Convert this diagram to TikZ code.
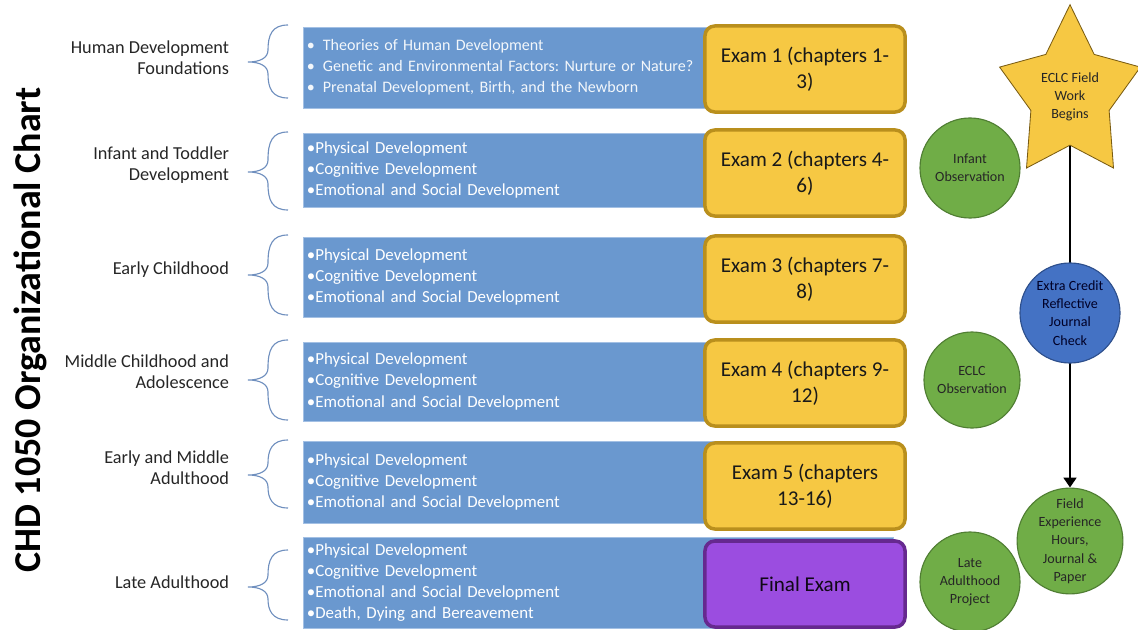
\documentclass[tikz,border=0pt]{standalone}
\usepackage{fontspec}
\setmainfont{Carlito}
\usetikzlibrary{arrows.meta, shapes.geometric, backgrounds}
\usepackage{xcolor}
\frenchspacing

\begin{document}
\begin{tikzpicture}[x=0.025cm, y=-0.025cm]

% -------------------------------------------------------
% Layout parameters (pixel units, y grows downwards)
% -------------------------------------------------------
\def\xTopic{598}    % center of topic bars
\def\xExam{805}     % center of exam boxes
\def\xLabel{234}    % right edge of group labels
\def\xTrack{1070}   % field work track (star -> field experience)
\def\xObs{970}      % observation circles

% colors
\definecolor{cTopic}{HTML}{6A98CF}
\definecolor{cTopicEdge}{HTML}{A3C0E4}
\definecolor{cExam}{HTML}{F6C843}
\definecolor{cExamEdge}{HTML}{B98F1D}
\definecolor{cFinal}{HTML}{9B4DE0}
\definecolor{cFinalEdge}{HTML}{66298F}
\definecolor{cObs}{HTML}{70AD47}
\definecolor{cObsEdge}{HTML}{507E33}
\definecolor{cCheck}{HTML}{4472C4}
\definecolor{cCheckEdge}{HTML}{2D4F8C}
\definecolor{cStarEdge}{HTML}{7A5C12}
\definecolor{cBrace}{HTML}{6F8FBE}

\tikzstyle{title} = [rotate=90, font=\fontsize{27}{30}\selectfont\bfseries];
\tikzstyle{grouplabel} = [anchor=east, align=right, text=black!85, font=\fontsize{13}{15}\selectfont];
\tikzstyle{grpbrace} = [cBrace, line width=0.8pt];
\tikzstyle{topicbox} = [rectangle, fill=cTopic, draw=cTopicEdge, line width=0.6pt, text width=14.55cm, inner xsep=0.1cm, align=left, text=white, font=\fontsize{12}{15}\selectfont];
\tikzstyle{exambox} = [rectangle, rounded corners=7pt, fill=cExam, draw=cExamEdge, line width=2.5pt, minimum width=5cm, minimum height=2.15cm, align=center, text=black!90, font=\fontsize{15}{18.5}\selectfont];
\tikzstyle{finalbox} = [exambox, fill=cFinal, draw=cFinalEdge, text=black!90!cFinal];
\tikzstyle{obscircle} = [circle, fill=cObs, draw=cObsEdge, line width=0.8pt, minimum size=2.5cm, inner sep=0pt, align=center, text=black!85, font=\fontsize{10}{13}\selectfont];
\tikzstyle{checkcircle} = [obscircle, fill=cCheck, draw=cCheckEdge, text=black!85!blue];
\tikzstyle{fieldstar} = [star, star points=5, star point ratio=1.8, minimum size=3.7cm, inner sep=0pt, fill=cExam, draw=cStarEdge, line width=0.6pt];
\tikzstyle{startext} = [align=center, text=black!85, font=\fontsize{10}{13}\selectfont];
\tikzstyle{arrow} = [line width=2pt, -{Triangle[width=9pt,length=7pt]}];

\useasboundingbox (0,0) rectangle (1138,630);

%%%%%% TITLE
\node[title] (title) at (30,330) {CHD 1050 Organizational Chart};

%%%%%% GROUP LABELS
\node[grouplabel] (grp1) at (\xLabel,57.5) {Human Development\\Foundations};
\node[grouplabel] (grp2) at (\xLabel,165) {Infant and Toddler\\Development};
\node[grouplabel] (grp3) at (\xLabel,270) {Early Childhood};
\node[grouplabel] (grp4) at (\xLabel,372) {Middle Childhood and\\Adolescence};
\node[grouplabel] (grp5) at (\xLabel,468) {Early and Middle\\Adulthood};
\node[grouplabel] (grp6) at (\xLabel,582) {Late Adulthood};

%%%%%% BRACES (top/tip/bottom)
\foreach \t/\m/\b in {25/62/98, 132/172/210, 235/275/315, 340/380/420, 440/475/508, 550/587/620}
  \draw[grpbrace] (288,\t) .. controls (272,\t) and (268,\t+10) .. (268,\m-12)
    .. controls (268,\m-4) and (260,\m) .. (248,\m)
    .. controls (260,\m) and (268,\m+4) .. (268,\m+12)
    .. controls (268,\b-10) and (272,\b) .. (288,\b);

%%%%%% TOPIC BARS
\node[topicbox, minimum height=2.025cm, font=\fontsize{11.4}{15}\selectfont, text=white!92!cTopic] (topic1) at (\xTopic,67.5) {\textbullet\, Theories of Human Development\\\textbullet\, Genetic and Environmental Factors: Nurture or Nature?\\\textbullet\, Prenatal Development, Birth, and the Newborn};
\node[topicbox, minimum height=1.85cm] (topic2) at (\xTopic,170) {\textbullet Physical Development\\\textbullet Cognitive Development\\\textbullet Emotional and Social Development};
\node[topicbox, minimum height=2cm] (topic3) at (\xTopic,277) {\textbullet Physical Development\\\textbullet Cognitive Development\\\textbullet Emotional and Social Development};
\node[topicbox, minimum height=1.975cm] (topic4) at (\xTopic,381.5) {\textbullet Physical Development\\\textbullet Cognitive Development\\\textbullet Emotional and Social Development};
\node[topicbox, minimum height=2.05cm] (topic5) at (\xTopic,482) {\textbullet Physical Development\\\textbullet Cognitive Development\\\textbullet Emotional and Social Development};
\node[topicbox, minimum height=2.275cm] (topic6) at (\xTopic,582.5) {\textbullet Physical Development\\\textbullet Cognitive Development\\\textbullet Emotional and Social Development\\\textbullet Death, Dying and Bereavement};

%%%%%% EXAMS
\node[exambox] (exam1) at (\xExam,69) {Exam 1 (chapters 1-\\3)};
\node[exambox] (exam2) at (\xExam,173) {Exam 2 (chapters 4-\\6)};
\node[exambox] (exam3) at (\xExam,279) {Exam 3 (chapters 7-\\8)};
\node[exambox] (exam4) at (\xExam,383) {Exam 4 (chapters 9-\\12)};
\node[exambox] (exam5) at (\xExam,486) {Exam 5 (chapters\\13-16)};
\node[finalbox] (final) at (\xExam,584) {Final Exam};

%%%%%% OBSERVATIONS
\node[obscircle] (infobs) at (\xObs,168) {Infant\\Observation};
\node[obscircle, minimum size=2.4cm] (eclcobs) at (\xObs+2,380) {ECLC\\Observation};
\node[obscircle] (lateproj) at (\xObs,582) {Late\\Adulthood\\Project};

%%%%%% FIELD WORK TRACK
\begin{scope}[shift={(\xTrack,95)}]
  \node[fieldstar, yscale=1.22] (star) at (0,0) {};
\end{scope}
\node[startext] (starlabel) at (\xTrack,97) {ECLC Field\\Work\\Begins};
\node[checkcircle] (check) at (\xTrack,313) {Extra Credit\\Reflective\\Journal\\Check};
\node[obscircle, minimum size=2.55cm] (field) at (\xTrack,541) {Field\\Experience\\Hours,\\Journal \&\\Paper};

\begin{scope}[on background layer]
  \draw[arrow] (star.inner point 3) -- (field.north);
\end{scope}

\end{tikzpicture}
\end{document}
